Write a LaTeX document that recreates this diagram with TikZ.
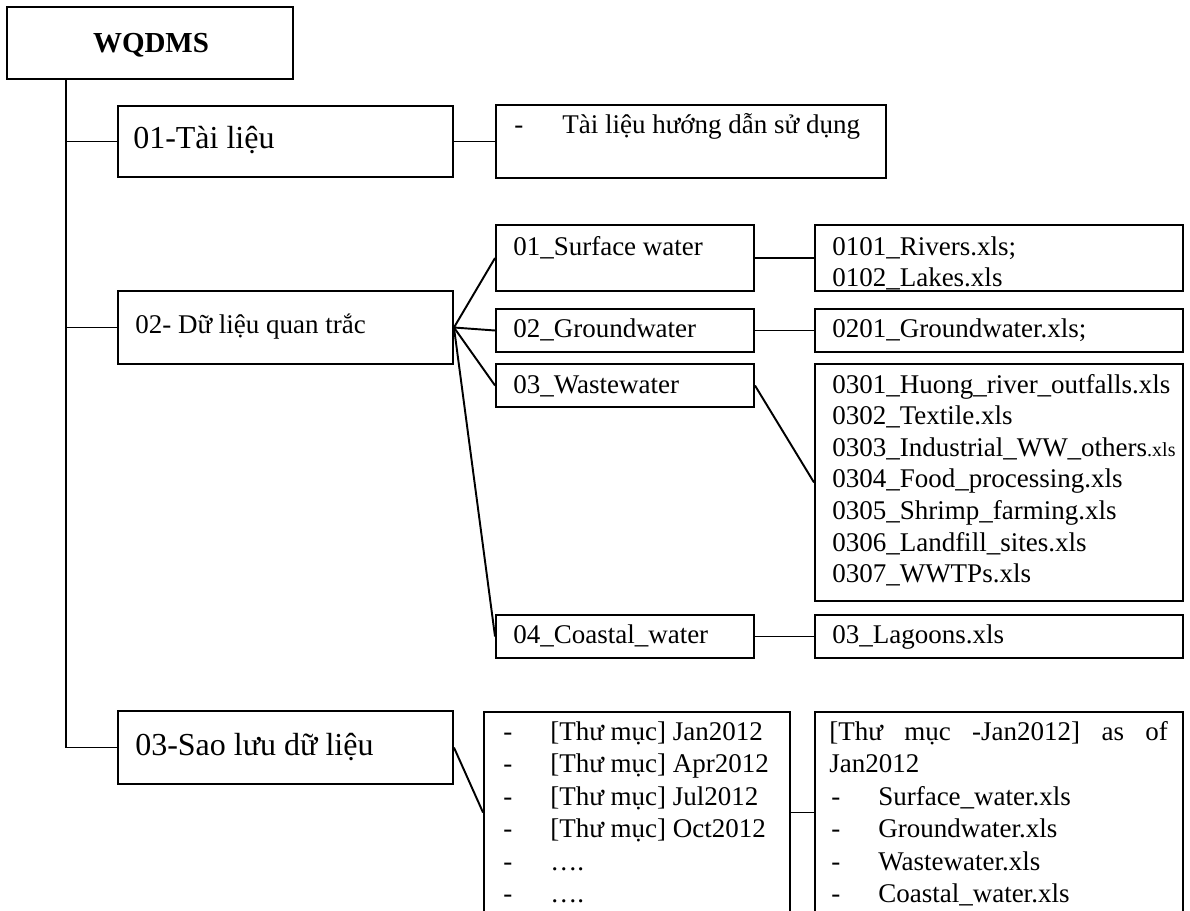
\documentclass[tikz,border=0pt]{standalone}
\usepackage{fontspec}
\setmainfont{Liberation Serif}
\usetikzlibrary{fit}
\begin{document}
\begin{tikzpicture}[x=0.75pt,y=-0.75pt,
  box/.style={draw, line width=1.45pt, inner sep=0pt},
  wire/.style={line width=1.45pt},
  txt/.style={inner sep=0pt, anchor=base west, font=\fontsize{20.25pt}{24pt}\selectfont},
  big/.style={txt, font=\fontsize{24pt}{28pt}\selectfont},
  head/.style={inner sep=0pt, anchor=base, font=\fontsize{21.75pt}{26pt}\selectfont\bfseries},
]
\useasboundingbox (0,0) rectangle (1190,911);

% ---------- boxes ----------
\node[box, fit={(7,7) (293,79)}] (wq) {};
\node[box, fit={(118,106) (453,177)}] (tl) {};
\node[box, fit={(496,105) (886,178)}] (th) {};
\node[box, fit={(118,291) (453,364)}] (dl) {};
\node[box, fit={(496,225) (754,291)}] (sw) {};
\node[box, fit={(496,309) (754,352)}] (gw) {};
\node[box, fit={(496,364) (754,407)}] (ww) {};
\node[box, fit={(496,615) (754,658)}] (cw) {};
\node[box, fit={(815,225) (1183,291)}] (rv) {};
\node[box, fit={(815,309) (1183,352)}] (gf) {};
\node[box, fit={(815,364) (1183,601)}] (wf) {};
\node[box, fit={(815,615) (1183,658)}] (lg) {};
\node[box, fit={(118,711) (453,784)}] (sl) {};
\node[box, fit={(484,712) (790,913)}] (tm) {};
\node[box, fit={(815,712) (1183,913)}] (jf) {};

% ---------- connectors ----------
\coordinate (root) at (66,79);
\draw[wire] (root) |- (tl.west);
\draw[wire] (root) |- (dl.west);
\draw[wire] (root) |- (sl.west);
\draw[wire] (tl.east) -- (th.west);
\draw[wire] (dl.east) -- (sw.west);
\draw[wire] (dl.east) -- (gw.west);
\draw[wire] (dl.east) -- (ww.west);
\draw[wire] (dl.east) -- (cw.west);
\draw[wire] (sw.east) -- (rv.west);
\draw[wire] (gw.east) -- (gf.west);
\draw[wire] (ww.east) -- (wf.west);
\draw[wire] (cw.east) -- (lg.west);
\draw[wire] (sl.east) -- (tm.west);
\draw[wire] (tm.east) -- (jf.west);

% ---------- labels ----------
\node[head] (wqT) at (151,52) {WQDMS};
\node[big] (tlT) at (133,148) {01-Tài liệu};
\node[txt] (thD) at (514,133) {-};
\node[txt] (thT) at (562,133) {Tài liệu hướng dẫn sử dụng};
\node[txt] (dlT) at (135,333) {02- Dữ liệu quan trắc};
\node[big] (slT) at (135,755) {03-Sao lưu dữ liệu};

\node[txt] (swT) at (513,255) {01\_Surface water};
\node[txt] (gwT) at (513,337) {02\_Groundwater};
\node[txt] (wwT) at (513,393) {03\_Wastewater};
\node[txt] (cwT) at (513,643) {04\_Coastal\_water};

\node[txt] (rv1) at (832,255) {0101\_Rivers.xls;};
\node[txt] (rv2) at (832,286.5) {0102\_Lakes.xls};
\node[txt] (gfT) at (832,337) {0201\_Groundwater.xls;};
\foreach \t [count=\i] in {
  {0301\_Huong\_river\_outfalls.xls},
  {0302\_Textile.xls},
  {0303\_Industrial\_WW\_others{\fontsize{15pt}{18pt}\selectfont.xls}},
  {0304\_Food\_processing.xls},
  {0305\_Shrimp\_farming.xls},
  {0306\_Landfill\_sites.xls},
  {0307\_WWTPs.xls}}
  \node[txt] (wf\i) at (832,{393+31.6*(\i-1)}) {\t};
\node[txt] (lgT) at (832,643) {03\_Lagoons.xls};

\foreach \t [count=\i] in {
  {[Thư mục] Jan2012},
  {[Thư mục] Apr2012},
  {[Thư mục] Jul2012},
  {[Thư mục] Oct2012},
  {….},
  {….}} {
  \node[txt] (tmD\i) at (503,{740+32.5*(\i-1)}) {-};
  \node[txt] (tm\i) at (550,{740+32.5*(\i-1)}) {\t};
}

\node[txt] (jf1) at (829,740) {\hbox to 254pt{[Thư\hfill mục\hfill -Jan2012]\hfill as\hfill of}};
\node[txt] (jf2) at (829,772.5) {Jan2012};
\foreach \t [count=\i] in {
  {Surface\_water.xls},
  {Groundwater.xls},
  {Wastewater.xls},
  {Coastal\_water.xls}} {
  \node[txt] (jfD\i) at (831,{805+32.5*(\i-1)}) {-};
  \node[txt] (jfT\i) at (878,{805+32.5*(\i-1)}) {\t};
}
\end{tikzpicture}
\end{document}
